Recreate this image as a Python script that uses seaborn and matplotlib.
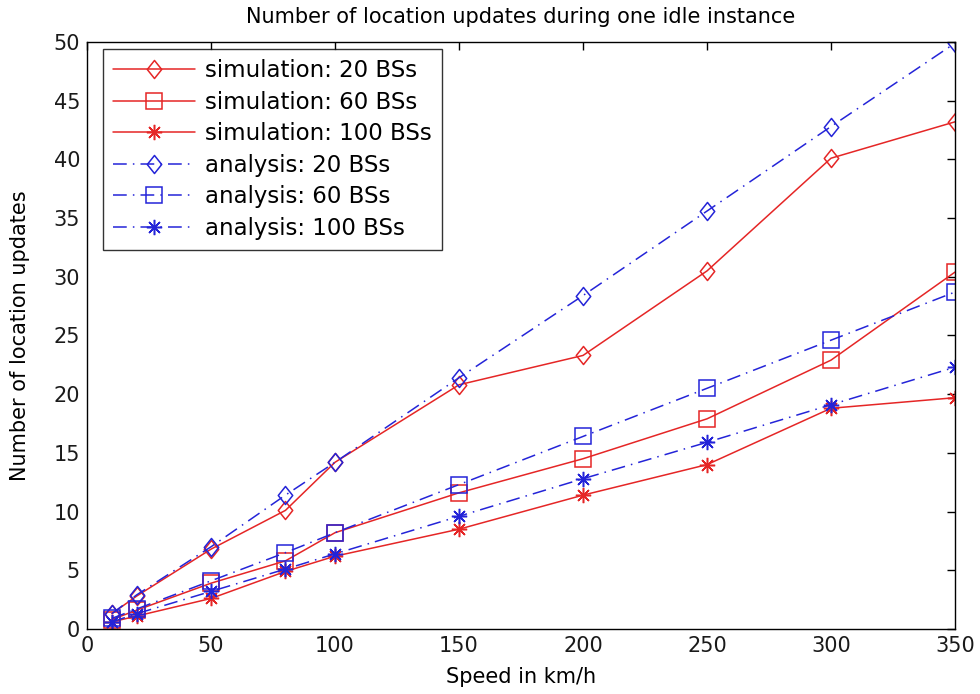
import matplotlib as mpl
import matplotlib.pyplot as plt
import numpy as np
import pandas as pd
import seaborn as sns
from matplotlib.path import Path

speed = [10, 20, 50, 80, 100, 150, 200, 250, 300, 350]

sim_20 = [1.3, 2.8, 6.8, 10.1, 14.2, 20.8, 23.3, 30.5, 40.1, 43.2]
sim_60 = [0.8, 1.6, 3.9, 5.8, 8.2, 11.6, 14.5, 17.9, 22.9, 30.4]
sim_100 = [0.6, 1.1, 2.6, 4.9, 6.2, 8.5, 11.4, 14.0, 18.8, 19.7]
ana_20 = [1.3, 2.9, 7.0, 11.4, 14.2, 21.4, 28.4, 35.6, 42.8, 49.9]
ana_60 = [0.9, 1.7, 4.1, 6.5, 8.2, 12.3, 16.4, 20.5, 24.6, 28.7]
ana_100 = [0.6, 1.3, 3.2, 5.1, 6.4, 9.6, 12.8, 15.9, 19.1, 22.3]

labels = [
    "simulation: 20 BSs",
    "simulation: 60 BSs",
    "simulation: 100 BSs",
    "analysis: 20 BSs",
    "analysis: 60 BSs",
    "analysis: 100 BSs",
]
series = [sim_20, sim_60, sim_100, ana_20, ana_60, ana_100]

sns.set_theme(style="white")
mpl.rcParams["font.family"] = ["DejaVu Sans"]
mpl.rcParams["text.color"] = "black"
mpl.rcParams["axes.labelcolor"] = "black"
mpl.rcParams["xtick.direction"] = "in"
mpl.rcParams["ytick.direction"] = "in"

red = "#e52626"
blue = "#2424d8"

# matlab-ish diamond: a bit taller than wide
diamond = Path([(0, 1), (0.8, 0), (0, -1), (-0.8, 0), (0, 1)], closed=True)
markers = [diamond, "s", (8, 2, 0), diamond, "s", (8, 2, 0)]
msizes = [13, 11, 11, 13, 11, 11]

fig = plt.figure(figsize=(9.8, 6.94), dpi=100)
ax = fig.add_axes([0.0888, 0.0937, 0.8857, 0.8458])

for i, (lab, vals) in enumerate(zip(labels, series)):
    df = pd.DataFrame({"speed": speed, "updates": vals})
    sim = i < 3
    sns.lineplot(
        data=df,
        x="speed",
        y="updates",
        ax=ax,
        color=red if sim else blue,
        linewidth=1.1,
        linestyle="-" if sim else (0, (9, 4, 1, 4)),
        marker=markers[i],
        markersize=msizes[i],
        mfc="none",
        mec=red if sim else blue,
        mew=1.1,
        label=lab,
    )

ax.set_xlim(0, 350)
ax.set_ylim(0, 50)
ax.set_xticks(np.arange(0, 351, 50))
ax.set_yticks(np.arange(0, 51, 5))
ax.tick_params(top=True, right=True, length=6, width=1, labelsize=15,
               colors="black", labelcolor="#1a1a1a", pad=5)
for s in ax.spines.values():
    s.set_color("black")
    s.set_linewidth(1)

ax.set_xlabel("Speed in km/h", fontsize=15, labelpad=8)
ax.set_ylabel("Number of location updates", fontsize=15, labelpad=17)
ax.set_title("Number of location updates during one idle instance",
             fontsize=15, pad=14)

leg = ax.legend(
    loc="upper left",
    bbox_to_anchor=(0.018, 0.988),
    fontsize=16.5,
    frameon=True,
    fancybox=False,
    handlelength=3.6,
    handletextpad=0.4,
    labelspacing=0.37,
    borderaxespad=0,
    borderpad=0.45,
)
leg.get_frame().set_edgecolor("black")
leg.get_frame().set_linewidth(1)

fig.savefig("out.png", dpi=100)
